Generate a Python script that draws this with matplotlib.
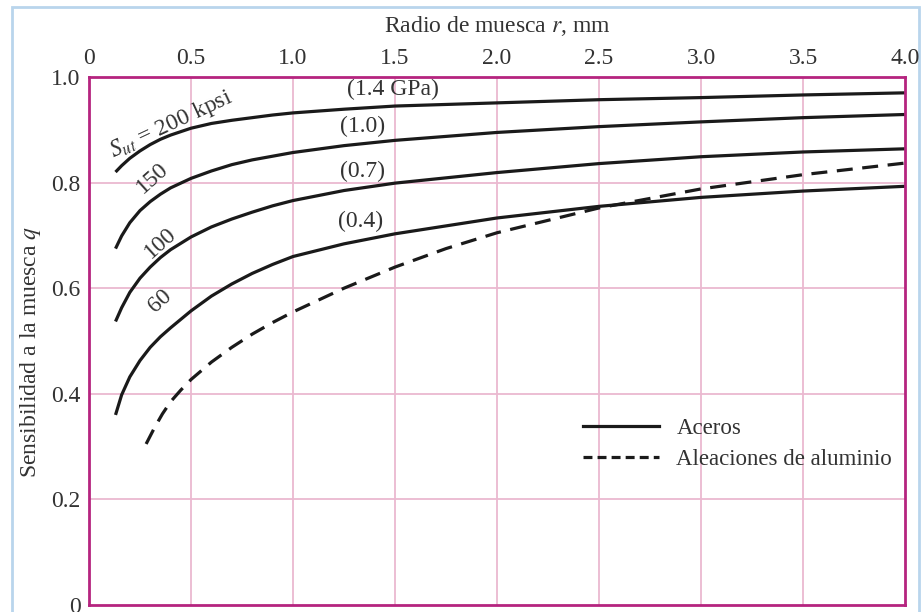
import numpy as np
import matplotlib
matplotlib.use("Agg")
from matplotlib import pyplot as plt
from matplotlib.patches import Rectangle

plt.rcParams['font.family'] = ['Liberation Serif', 'DejaVu Serif']
plt.rcParams['mathtext.fontset'] = 'stix'

# notch radius r, mm
r_steel = [0.13, 0.16, 0.20, 0.25, 0.30, 0.35, 0.40, 0.50, 0.60, 0.70, 0.80, 0.90, 1.00,
           1.25, 1.50, 2.00, 2.50, 3.00, 3.50, 4.00]
q_200 = [0.820, 0.832, 0.846, 0.860, 0.872, 0.882, 0.890, 0.903, 0.912, 0.918, 0.923, 0.928, 0.932,
         0.939, 0.945, 0.951, 0.957, 0.961, 0.966, 0.970]
q_150 = [0.675, 0.699, 0.724, 0.747, 0.764, 0.778, 0.790, 0.808, 0.822, 0.834, 0.843, 0.850, 0.857,
         0.870, 0.880, 0.895, 0.906, 0.915, 0.923, 0.929]
q_100 = [0.537, 0.563, 0.592, 0.619, 0.640, 0.658, 0.673, 0.697, 0.716, 0.731, 0.744, 0.756, 0.766,
         0.785, 0.799, 0.819, 0.836, 0.849, 0.858, 0.864]
q_60 = [0.360, 0.398, 0.432, 0.463, 0.488, 0.508, 0.525, 0.557, 0.585, 0.608, 0.628, 0.645, 0.660,
        0.684, 0.703, 0.733, 0.755, 0.772, 0.784, 0.793]

r_alu = [0.28, 0.32, 0.36, 0.40, 0.45, 0.50, 0.60, 0.70, 0.80, 0.90, 1.00, 1.25, 1.50, 1.75,
         2.00, 2.50, 3.00, 3.50, 4.00]
q_alu = [0.305, 0.335, 0.362, 0.385, 0.407, 0.427, 0.460, 0.488, 0.513, 0.535, 0.555, 0.600, 0.640, 0.675,
         0.705, 0.752, 0.788, 0.815, 0.837]

x_ticks = [0, 0.5, 1.0, 1.5, 2.0, 2.5, 3.0, 3.5, 4.0]
x_labels = ['0', '0.5', '1.0', '1.5', '2.0', '2.5', '3.0', '3.5', '4.0']
y_ticks = [0, 0.2, 0.4, 0.6, 0.8, 1.0]
y_labels = ['0', '0.2', '0.4', '0.6', '0.8', '1.0']

grid_col = '#eab9d0'
frame_col = '#b5247f'
ink = '#1a1a1a'
txt = '#333333'
fs = 17

fig = plt.figure(figsize=(9.23, 6.12), dpi=100)
ax = fig.add_axes([89/923, 1 - 605/612, 816/923, 528/612])

for y in y_ticks[1:-1]:
    ax.axhline(y, color=grid_col, lw=1.3, zorder=0)
for x in x_ticks[1:-1]:
    ax.axvline(x, color=grid_col, lw=1.3, zorder=0)

lw = 2.3
for q in (q_200, q_150, q_100, q_60):
    ax.plot(r_steel, q, color=ink, lw=lw, solid_capstyle='butt', solid_joinstyle='round')
ax.plot(r_alu, q_alu, color=ink, lw=lw, dashes=(5.0, 3.0))

# legend
h1, = ax.plot([], [], color=ink, lw=lw)
h2, = ax.plot([], [], color=ink, lw=lw, dashes=(2.8, 1.6))
ax.legend([h1, h2], ['Aceros', 'Aleaciones de aluminio'], loc='center left',
          bbox_to_anchor=(0.606, 0.305), frameon=False, fontsize=16.5,
          handlelength=3.3, handletextpad=0.75, labelspacing=0.45,
          borderpad=0, borderaxespad=0, labelcolor=txt)

# curve annotations
ax.text(0.40, 0.910, r'$S_{ut}$ = 200 kpsi', fontsize=fs, rotation=25, ha='center', va='center', color=txt)
ax.text(0.31, 0.808, '150', fontsize=fs, rotation=42, ha='center', va='center', color=txt)
ax.text(0.35, 0.686, '100', fontsize=fs, rotation=42, ha='center', va='center', color=txt)
ax.text(0.35, 0.575, '60', fontsize=fs, rotation=42, ha='center', va='center', color=txt)
ax.text(1.49, 0.976, '(1.4 GPa)', fontsize=fs, ha='center', va='center', color=txt)
ax.text(1.34, 0.906, '(1.0)', fontsize=fs, ha='center', va='center', color=txt)
ax.text(1.34, 0.821, '(0.7)', fontsize=fs, ha='center', va='center', color=txt)
ax.text(1.33, 0.726, '(0.4)', fontsize=fs, ha='center', va='center', color=txt)

ax.set_xlim(0, 4.0)
ax.set_ylim(0, 1.0)
ax.xaxis.tick_top()
ax.xaxis.set_label_position('top')
ax.set_xticks(x_ticks, x_labels)
ax.set_yticks(y_ticks, y_labels)
ax.tick_params(axis='both', length=0, labelsize=fs, labelcolor=txt)
ax.tick_params(axis='x', pad=6)
ax.tick_params(axis='y', pad=6)
ax.set_xlabel('Radio de muesca $r$, mm', fontsize=fs, color=txt, labelpad=11)
ax.set_ylabel('Sensibilidad a la muesca $q$', fontsize=fs, color=txt)
ax.yaxis.set_label_coords(-0.056, 0.48)

for s in ax.spines.values():
    s.set_color(frame_col)
    s.set_linewidth(2.0)

# light blue outer frame
fig.patches.append(Rectangle((12/923, -0.05), 907/923, 1.05 - 7/612, transform=fig.transFigure,
                             fill=False, edgecolor='#b9d5ec', lw=2.0, zorder=-1))

fig.savefig('out.png', dpi=100)
